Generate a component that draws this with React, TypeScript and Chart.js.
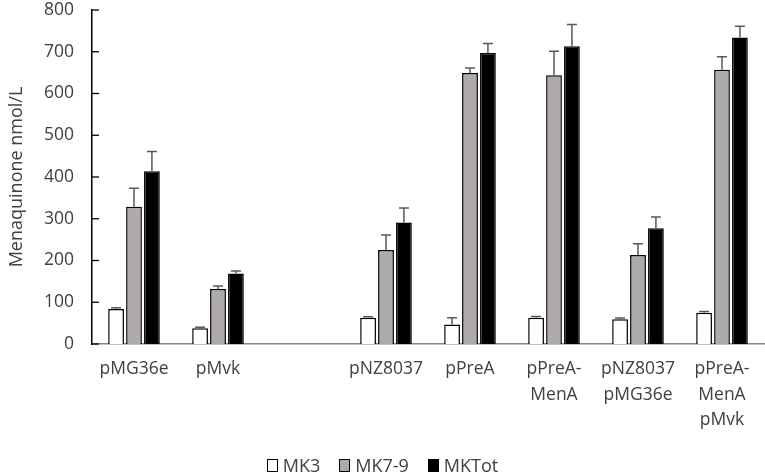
import React, { useEffect, useRef } from "react";
import { Chart, registerables } from "chart.js";

Chart.register(...registerables);

const categories: (string | string[])[] = [
  "pMG36e",
  "pMvk",
  "",
  "pNZ8037",
  "pPreA",
  ["pPreA-", "MenA"],
  ["pNZ8037", "pMG36e"],
  ["pPreA-", "MenA", "pMvk"],
];

const mk3 = [84, 38, null, 63, 47, 63, 59, 75];
const mk3Err = [3, 2, null, 2, 16, 3, 3, 3];
const mk79 = [329, 132, null, 225, 649, 644, 213, 657];
const mk79Err = [44, 7, null, 36, 12, 57, 27, 31];
const mkTot = [414, 169, null, 291, 697, 713, 277, 734];
const mkTotErr = [47, 6, null, 35, 23, 52, 27, 27];

const yTicks = [0, 100, 200, 300, 400, 500, 600, 700, 800];

const FONT = "'Open Sans', sans-serif";
const TEXT = "#404040";
const GREY = "#aeaaaa";

const errorsBySeries = [mk3Err, mk79Err, mkTotErr];

const errorBars = {
  id: "errorBars",
  afterDatasetsDraw(chart: Chart) {
    const { ctx } = chart;
    const y = chart.scales.y;
    ctx.save();
    ctx.strokeStyle = "#595959";
    ctx.lineWidth = 1.5;
    chart.data.datasets.forEach((ds, i) => {
      const meta = chart.getDatasetMeta(i);
      const errs = errorsBySeries[i];
      meta.data.forEach((bar: any, j) => {
        const v = ds.data[j] as number | null;
        const e = errs[j];
        if (v == null || e == null) return;
        const top = y.getPixelForValue(v + e);
        ctx.beginPath();
        ctx.moveTo(bar.x, bar.y);
        ctx.lineTo(bar.x, top);
        ctx.moveTo(bar.x - 5, top);
        ctx.lineTo(bar.x + 5, top);
        ctx.stroke();
      });
    });
    // inside tick marks on the value axis
    const left = chart.chartArea.left;
    ctx.strokeStyle = "#000";
    ctx.lineWidth = 1.3;
    y.ticks.forEach((t) => {
      const py = y.getPixelForValue(t.value);
      ctx.beginPath();
      ctx.moveTo(left, py);
      ctx.lineTo(left + 7, py);
      ctx.stroke();
    });
    ctx.restore();
  },
};

export default function App() {
  const canvasRef = useRef<HTMLCanvasElement>(null);

  useEffect(() => {
    if (!canvasRef.current) return;
    const chart = new Chart(canvasRef.current, {
      type: "bar",
      data: {
        labels: categories,
        datasets: [
          {
            label: "MK3",
            data: mk3,
            backgroundColor: "#ffffff",
            borderColor: "#000",
            borderWidth: 1.5,
          },
          {
            label: "MK7-9",
            data: mk79,
            backgroundColor: GREY,
            borderColor: "#000",
            borderWidth: 1.5,
          },
          {
            label: "MKTot",
            data: mkTot,
            backgroundColor: "#000",
            borderColor: "#000",
            borderWidth: 1.5,
          },
        ],
      },
      options: {
        animation: false,
        responsive: false,
        maintainAspectRatio: false,
        categoryPercentage: 0.64,
        barPercentage: 0.88,
        layout: { padding: { top: 10, right: 1, left: 0, bottom: 0 } },
        plugins: {
          legend: { display: false },
          tooltip: { enabled: false },
        },
        scales: {
          x: {
            grid: { display: false, drawTicks: false },
            border: { color: "#868686", width: 1.5 },
            ticks: {
              color: TEXT,
              padding: 13,
              maxRotation: 0,
              autoSkip: false,
              font: { family: FONT, size: 17.5, lineHeight: 1.43 },
            },
            afterFit: (s: any) => {
              s.height = 130;
            },
          },
          y: {
            min: 0,
            max: 800,
            afterBuildTicks: (s: any) => {
              s.ticks = yTicks.map((v) => ({ value: v }));
            },
            grid: { display: false, drawTicks: false },
            border: { color: "#000", width: 1.5 },
            ticks: {
              color: TEXT,
              padding: 18,
              font: { family: FONT, size: 17.5 },
            },
            title: {
              display: true,
              text: "Menaquinone nmol/L",
              color: TEXT,
              padding: { top: 6, bottom: 6 },
              font: { family: FONT, size: 18 },
            },
            afterFit: (s: any) => {
              s.width = 92;
              s.paddingTop = 8;
              s.paddingBottom = 8;
            },
          },
        },
      },
      plugins: [errorBars],
    });
    return () => chart.destroy();
  }, []);

  const legendItems = [
    { label: "MK3", color: "#ffffff" },
    { label: "MK7-9", color: GREY },
    { label: "MKTot", color: "#000" },
  ];

  return (
    <div
      style={{
        position: "absolute",
        left: 0,
        top: 0,
        width: 765,
        height: 474,
        background: "#fff",
      }}
    >
      <canvas ref={canvasRef} width={765} height={474} style={{ width: 765, height: 474 }} />
      <div
        style={{
          position: "absolute",
          top: 454,
          left: 0,
          width: 765,
          display: "flex",
          justifyContent: "center",
          gap: 19,
          fontFamily: FONT,
          fontSize: 18,
          color: TEXT,
          lineHeight: "22px",
        }}
      >
        {legendItems.map((it) => (
          <span key={it.label} style={{ display: "flex", alignItems: "center" }}>
            <span
              style={{
                display: "inline-block",
                boxSizing: "border-box",
                width: 11,
                height: 13,
                border: "1.5px solid #000",
                background: it.color,
                marginRight: 5,
              }}
            />
            {it.label}
          </span>
        ))}
      </div>
    </div>
  );
}
